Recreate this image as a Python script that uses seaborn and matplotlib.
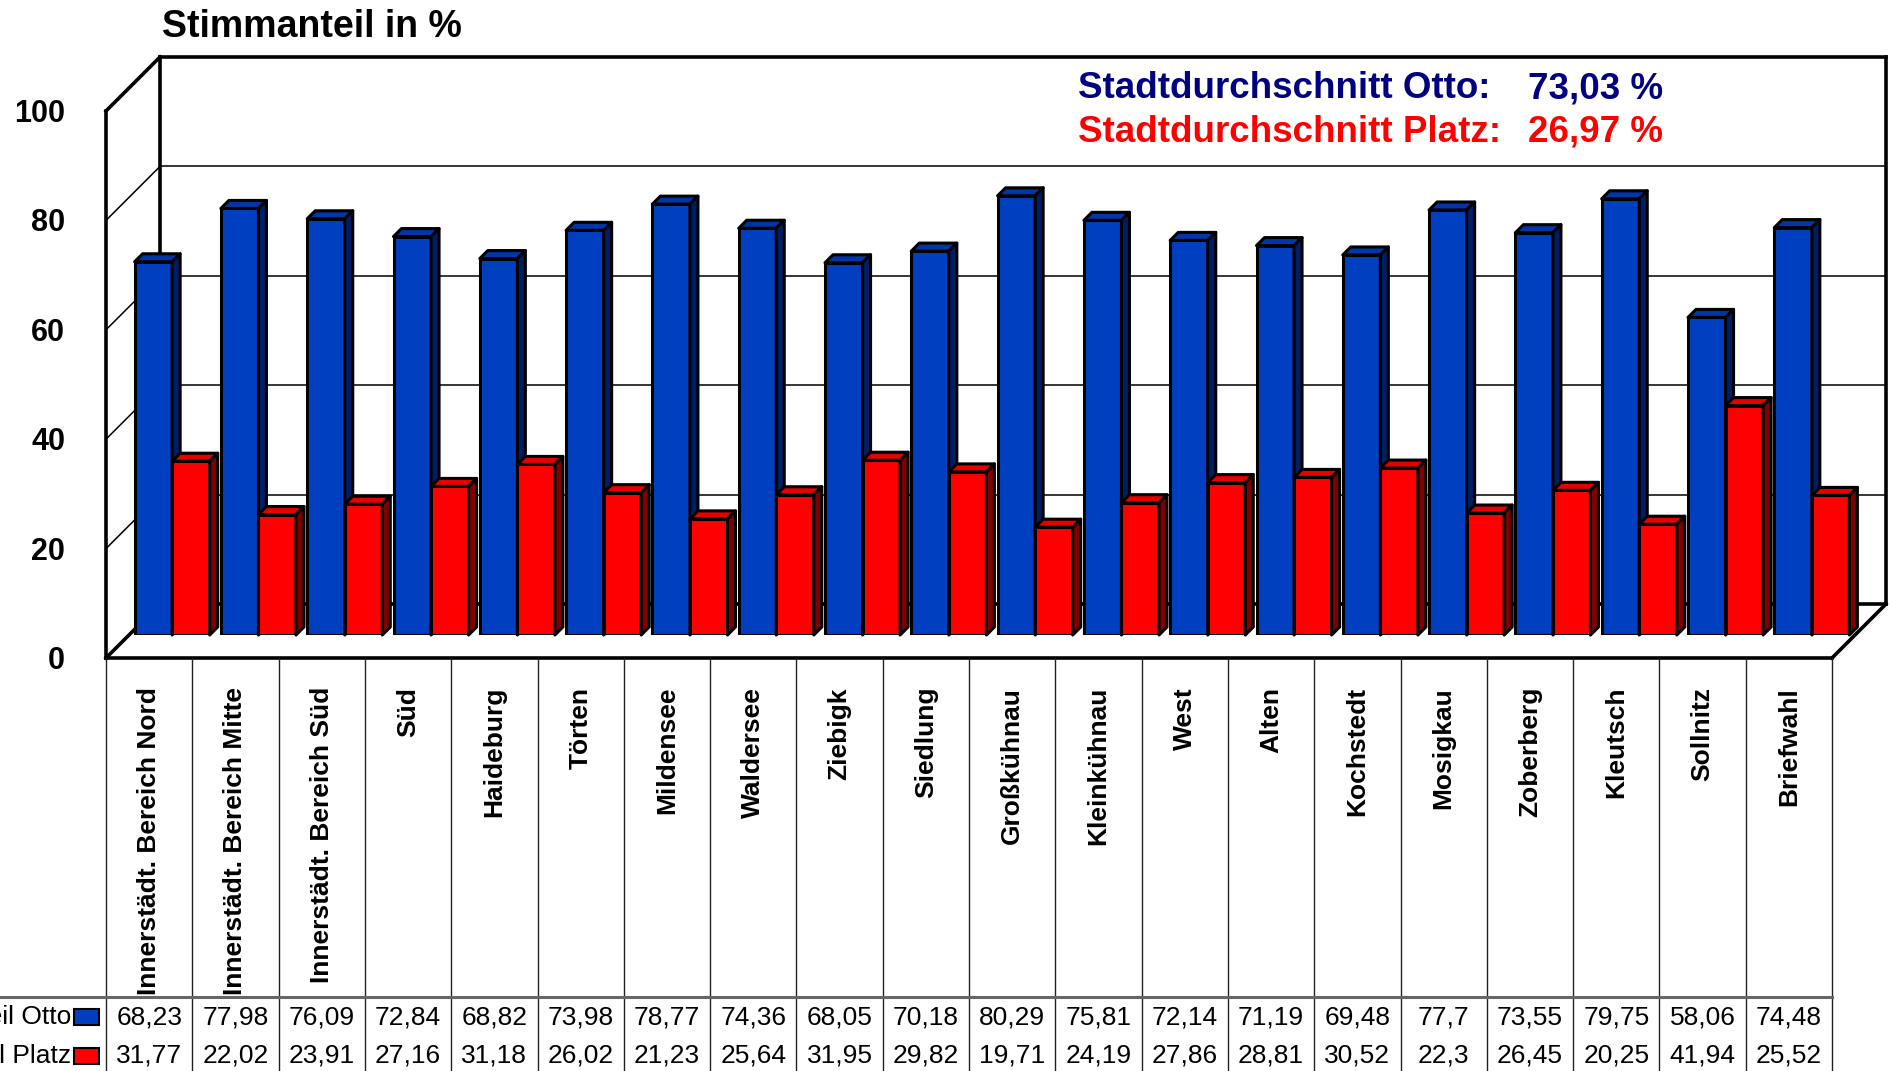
import matplotlib
matplotlib.use("Agg")
import matplotlib.pyplot as plt
import numpy as np
import pandas as pd
import seaborn as sns
from matplotlib.transforms import IdentityTransform
from matplotlib.patches import Polygon, Rectangle
from matplotlib.lines import Line2D

# ---- data -------------------------------------------------------------
bezirke = ["Innerstädt. Bereich Nord", "Innerstädt. Bereich Mitte",
           "Innerstädt. Bereich Süd", "Süd", "Haideburg", "Törten",
           "Mildensee", "Waldersee", "Ziebigk", "Siedlung", "Großkühnau",
           "Kleinkühnau", "West", "Alten", "Kochstedt", "Mosigkau",
           "Zoberberg", "Kleutsch", "Sollnitz", "Briefwahl"]
otto = [68.23, 77.98, 76.09, 72.84, 68.82, 73.98, 78.77, 74.36, 68.05, 70.18,
        80.29, 75.81, 72.14, 71.19, 69.48, 77.7, 73.55, 79.75, 58.06, 74.48]
platz = [31.77, 22.02, 23.91, 27.16, 31.18, 26.02, 21.23, 25.64, 31.95, 29.82,
         19.71, 24.19, 27.86, 28.81, 30.52, 22.3, 26.45, 20.25, 41.94, 25.52]
serien = ["Stimmanteil Otto", "Stimmanteil Platz"]
schnitt_otto = 73.03
schnitt_platz = 26.97
y_ticks = [0, 20, 40, 60, 80, 100]

# ---- style ------------------------------------------------------------
sns.set_style("white")
plt.rcParams["font.family"] = ["Liberation Sans", "DejaVu Sans"]
plt.rcParams["text.color"] = "black"

W, H = 1892, 1071
DPI = 100
C_OTTO, C_OTTO_TOP, C_OTTO_SIDE = "#0040C0", "#0036A6", "#001E66"
C_PLATZ, C_PLATZ_TOP, C_PLATZ_SIDE = "#FF0000", "#E80000", "#800000"

fig = plt.figure(figsize=(W / DPI, H / DPI), dpi=DPI)
fig.patch.set_facecolor("white")

# axes = the plane in which the bars stand (pixel box of that plane)
left_px, right_px = 129, 1855
base_px, top_px = 635, 88
ax = fig.add_axes([left_px / W, (H - base_px) / H,
                   (right_px - left_px) / W, (base_px - top_px) / H])
ax.patch.set_visible(False)

df = pd.DataFrame({
    "Bezirk": bezirke * 2,
    "Anteil": otto + platz,
    "Serie": [serien[0]] * len(bezirke) + [serien[1]] * len(bezirke),
})
sns.barplot(data=df, x="Bezirk", y="Anteil", hue="Serie", order=bezirke,
            hue_order=serien, palette=[C_OTTO, C_PLATZ], saturation=1,
            width=0.87, edgecolor="black", linewidth=2.2, errorbar=None,
            legend=False, ax=ax)
n = len(bezirke)
ax.set_xlim(-0.5, n - 0.5)
ax.set_ylim(0, 100)
ax.axis("off")

# depth offsets (display pixels) of the front edge and the back wall
FRONT, BACK, DEPTH = -23, 31, 8


def mid(x, v):
    return ax.transData.transform((x, v))


def front(x, v):
    p = mid(x, v)
    return (p[0] + FRONT, p[1] + FRONT)


def back(x, v):
    p = mid(x, v)
    return (p[0] + BACK, p[1] + BACK)


def pix(x, y):
    # pixel coordinates measured from the top-left corner
    return (x, H - y)


ident = IdentityTransform()


def line(p, q, lw, color="black", z=1):
    ax.add_artist(Line2D([p[0], q[0]], [p[1], q[1]], transform=ident,
                         lw=lw, color=color, zorder=z, clip_on=False,
                         solid_capstyle="projecting"))


x0, x1 = -0.5, n - 0.5
# gridlines on back wall and side wall
for v in y_ticks[1:-1]:
    line(back(x0, v), back(x1, v), 1.1)
    line(front(x0, v), back(x0, v), 1.1)
# frame of walls and floor
thick = 2.6
line(back(x0, 100), back(x1, 100), thick)
line(back(x1, 100), back(x1, 0), thick)
line(back(x0, 100), back(x0, 0), thick)
line(back(x0, 0), back(x1, 0), thick)
line(front(x0, 0), front(x0, 100), thick)
line(front(x0, 100), back(x0, 100), thick)
line(front(x0, 0), back(x0, 0), thick)
line(front(x1, 0), back(x1, 0), thick)
line(front(x0, 0), front(x1, 0), thick)

# 3D faces on the seaborn bars
face_cols = [(C_OTTO_TOP, C_OTTO_SIDE), (C_PLATZ_TOP, C_PLATZ_SIDE)]
for k, cont in enumerate(ax.containers):
    top_c, side_c = face_cols[k]
    z = 3 + 2 * k
    for bar in cont:
        bar.set_zorder(z)
        bx, bw, bh = bar.get_x(), bar.get_width(), bar.get_height()
        p0 = mid(bx, 0)
        p1 = mid(bx + bw, bh)
        top = [(p0[0], p1[1]), (p1[0], p1[1]),
               (p1[0] + DEPTH, p1[1] + DEPTH), (p0[0] + DEPTH, p1[1] + DEPTH)]
        side = [(p1[0], p0[1]), (p1[0], p1[1]),
                (p1[0] + DEPTH, p1[1] + DEPTH), (p1[0] + DEPTH, p0[1] + DEPTH)]
        for poly, col in ((top, top_c), (side, side_c)):
            ax.add_artist(Polygon(poly, closed=True, transform=ident,
                                  facecolor=col, edgecolor="black",
                                  lw=2.2, joinstyle="round", clip_on=False,
                                  zorder=z + 0.5))

# y tick labels at the front edge
for v in y_ticks:
    fx, fy = front(x0, v)
    fig.text(65, fy - 3, str(v), transform=ident, ha="right", va="center",
             fontsize=22, fontweight="bold")

# title and city averages
fig.text(*pix(162, 27), "Stimmanteil in %", transform=ident, ha="left",
         va="center", fontsize=27, fontweight="bold")
avg_rows = [("Stadtdurchschnitt Otto:", schnitt_otto, "#000080", 89),
            ("Stadtdurchschnitt Platz:", schnitt_platz, "#FF0000", 132)]
for label, val, col, yy in avg_rows:
    fig.text(*pix(1078, yy), label, transform=ident, ha="left", va="center",
             fontsize=26.5, fontweight="bold", color=col)
    fig.text(*pix(1663, yy), f"{val:.2f} %".replace(".", ","),
             transform=ident, ha="right", va="center", fontsize=26.5,
             fontweight="bold", color=col)

# data table below the floor
table_top, table_sep = 658, 997
for i in range(n + 1):
    fx = front(i - 0.5, 0)[0]
    line((fx, H - table_top), (fx, 0), 1.0, color="#222222", z=1)
line((0, H - table_sep), (front(x1, 0)[0], H - table_sep), 2.2,
     color="#666666", z=1)

row_y = [1017, 1056]
row_vals = [otto, platz]
for i, name in enumerate(bezirke):
    cx = front(i, 0)[0]
    fig.text(cx, H - 687, name, transform=ident, rotation=90, ha="center",
             va="top", fontsize=19, fontweight="bold")
    for r in range(2):
        txt = f"{row_vals[r][i]:g}".replace(".", ",")
        fig.text(cx, H - row_y[r], txt, transform=ident, ha="center",
                 va="center", fontsize=19)

for r, (name, col) in enumerate(zip(serien, [C_OTTO, C_PLATZ])):
    fig.text(71, H - row_y[r], name, transform=ident, ha="right",
             va="center", fontsize=19)
    ax.add_artist(Rectangle((74, H - row_y[r] - 8), 25, 16, transform=ident,
                            facecolor=col, edgecolor="black", lw=1.5,
                            clip_on=False, zorder=6))

fig.savefig("out.png", dpi=DPI, facecolor="white")
